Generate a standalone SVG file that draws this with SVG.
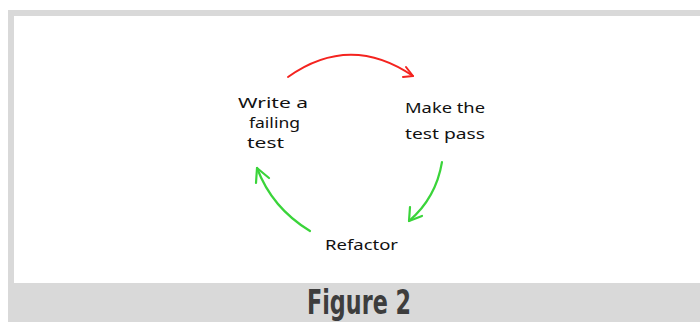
<svg xmlns="http://www.w3.org/2000/svg" width="700" height="322" viewBox="0 0 700 322">
<style>
.hand{font-family:"Noto Sans","DejaVu Sans",sans-serif;font-size:15px;fill:#111;}
.red{fill:none;stroke:#f4231f;stroke-width:2;stroke-linecap:round;stroke-linejoin:round;}
.green{fill:none;stroke:#3ad43a;stroke-width:2.2;stroke-linecap:round;stroke-linejoin:round;}
.cap{font-family:"DejaVu Sans Condensed","DejaVu Sans",sans-serif;font-weight:bold;font-size:33px;fill:#3d3d3d;}
</style>
<rect x="0" y="0" width="700" height="322" fill="#ffffff"/>
<rect x="8" y="10" width="700" height="312" fill="#d9d9d9"/>
<rect x="14" y="16" width="700" height="267" fill="#ffffff"/>
<g id="connectors">
<path class="red" d="M288 77 Q350 33 413 76"/>
<path class="red" d="M406 67 L413 76 L403 77"/>
<path class="green" d="M442 162 Q436 198 409 221"/>
<path class="green" d="M410 207 L409 221 L422 216"/>
<path class="green" d="M310 231 Q272 208 257 168"/>
<path class="green" d="M256 183 L257 168 L269 178"/>
</g>
<g id="node-write">
<text class="hand" x="238" y="108" textLength="70" lengthAdjust="spacingAndGlyphs">Write a</text>
<text class="hand" x="249" y="128" textLength="51" lengthAdjust="spacingAndGlyphs">failing</text>
<text class="hand" x="247" y="148" textLength="37" lengthAdjust="spacingAndGlyphs">test</text>
</g>
<g id="node-make">
<text class="hand" x="405" y="113" textLength="80" lengthAdjust="spacingAndGlyphs">Make the</text>
<text class="hand" x="405" y="139" textLength="80" lengthAdjust="spacingAndGlyphs">test pass</text>
</g>
<g id="node-refactor">
<text class="hand" x="325" y="250" textLength="73" lengthAdjust="spacingAndGlyphs">Refactor</text>
</g>
<g id="caption">
<text class="cap" x="307" y="314" textLength="104" lengthAdjust="spacingAndGlyphs">Figure 2</text>
</g>
</svg>
